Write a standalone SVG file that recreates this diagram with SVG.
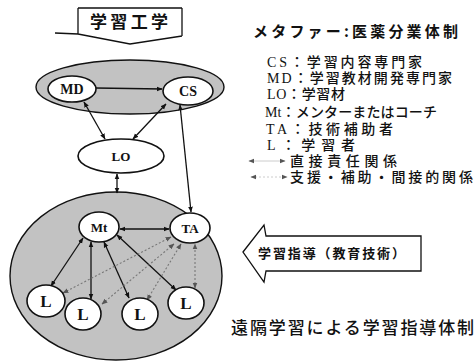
<svg xmlns="http://www.w3.org/2000/svg" width="476" height="362" viewBox="0 0 476 362">
<style>
.gray{fill:#c2c2c2;stroke:#111;stroke-width:1.4}
.node{fill:#fff;stroke:#111;stroke-width:1.6}
.lbl{font-family:"Liberation Serif","Noto Sans CJK JP",serif;font-weight:bold;fill:#111;text-anchor:middle}
.sol{stroke:#111;stroke-width:1.3;fill:none;marker-start:url(#ah);marker-end:url(#ah)}
.dot{stroke:#777;stroke-width:1.1;stroke-dasharray:2 2;fill:none;marker-start:url(#ahg);marker-end:url(#ahg)}
.leg{font-family:"Liberation Serif","Noto Sans CJK JP",serif;font-size:14px;font-weight:500;fill:#111}
.gth{font-family:"Noto Sans CJK JP",sans-serif;font-weight:bold;fill:#111}
</style>
<defs>
<marker id="ah" viewBox="0 0 10 10" refX="9" refY="5" markerWidth="6" markerHeight="6" markerUnits="userSpaceOnUse" orient="auto-start-reverse"><path d="M0,1 L10,5 L0,9 z" fill="#111"/></marker>
<marker id="ahg" viewBox="0 0 10 10" refX="9" refY="5" markerWidth="6" markerHeight="6" markerUnits="userSpaceOnUse" orient="auto-start-reverse"><path d="M0,1 L10,5 L0,9 z" fill="#555"/></marker>
</defs>
<rect width="476" height="362" fill="#fff"/>

<g id="banner-top">
<path d="M78,8 L182,8 M78,8 L78,34 M182,8 L182,36 M55,33 L78,34 L130,44 L182,36" fill="none" stroke="#111" stroke-width="1.3"/>
<text class="gth" x="90" y="28" font-size="17" textLength="78" lengthAdjust="spacing">学習工学</text>
</g>

<g id="group-top"><ellipse class="gray" cx="130" cy="87" rx="94" ry="27"/></g>
<g id="group-bottom"><ellipse class="gray" cx="116" cy="276" rx="106" ry="84"/></g>

<g id="connectors">
<line x1="96" y1="88" x2="162" y2="89" stroke="#111" stroke-width="1.3" marker-end="url(#ah)"/>
<line class="sol" x1="84" y1="102" x2="105" y2="139"/>
<line class="sol" x1="166" y1="104" x2="133" y2="139"/>
<line class="sol" x1="180" y1="105" x2="191" y2="212"/>
<line class="sol" x1="117" y1="174" x2="117" y2="193"/>
<line class="sol" x1="120" y1="229" x2="169" y2="229"/>
<line class="sol" x1="83" y1="238" x2="51" y2="286"/>
<line class="sol" x1="91" y1="242" x2="91" y2="299"/>
<line class="sol" x1="104" y1="242" x2="129" y2="298"/>
<line class="sol" x1="117" y1="235" x2="176" y2="290"/>
<line class="dot" x1="63" y1="293" x2="171" y2="237"/>
<line class="dot" x1="102" y1="304" x2="174" y2="244"/>
<line class="dot" x1="147" y1="300" x2="181" y2="244"/>
<line class="dot" x1="195" y1="288" x2="195" y2="244"/>
</g>

<g id="MD"><ellipse class="node" cx="72" cy="89" rx="24" ry="13"/><text class="lbl" x="72" y="94" font-size="14">MD</text></g>
<g id="CS"><ellipse class="node" cx="188" cy="91" rx="25" ry="14"/><text class="lbl" x="188" y="96" font-size="14">CS</text></g>
<g id="LO"><ellipse class="node" cx="121" cy="156" rx="43" ry="17"/><text class="lbl" x="121" y="161" font-size="13">LO</text></g>
<g id="Mt"><ellipse class="node" cx="99" cy="227" rx="20" ry="15"/><text class="lbl" x="99" y="232" font-size="13">Mt</text></g>
<g id="TA"><ellipse class="node" cx="190" cy="228" rx="20" ry="15"/><text class="lbl" x="190" y="233" font-size="13">TA</text></g>
<g id="L1"><ellipse class="node" cx="46" cy="301" rx="19" ry="16"/><text class="lbl" x="46" y="307" font-size="17">L</text></g>
<g id="L2"><ellipse class="node" cx="83" cy="314" rx="18" ry="16"/><text class="lbl" x="83" y="320" font-size="17">L</text></g>
<g id="L3"><ellipse class="node" cx="140" cy="314" rx="18" ry="16"/><text class="lbl" x="140" y="320" font-size="17">L</text></g>
<g id="L4"><ellipse class="node" cx="186" cy="303" rx="18" ry="16"/><text class="lbl" x="186" y="309" font-size="17">L</text></g>

<g id="legend">
<text class="gth" x="253" y="37" font-size="15" textLength="205" lengthAdjust="spacing">メタファー:医薬分業体制</text>
<text class="leg" x="267" y="67" textLength="155" lengthAdjust="spacing">CS：学習内容専門家</text>
<text class="leg" x="267" y="83" textLength="185" lengthAdjust="spacing">MD：学習教材開発専門家</text>
<text class="leg" x="267" y="99" textLength="78" lengthAdjust="spacing">LO：学習材</text>
<text class="leg" x="265" y="117" textLength="172" lengthAdjust="spacing">Mt：メンターまたはコーチ</text>
<text class="leg" x="266" y="134" textLength="127" lengthAdjust="spacing">TA：技術補助者</text>
<text class="leg" x="267" y="150" textLength="88" lengthAdjust="spacing">L：学習者</text>
<line x1="249" y1="161" x2="285" y2="161" stroke="#ccc" stroke-width="1" marker-start="url(#ahg)" marker-end="url(#ahg)"/>
<text class="leg" x="290" y="166" textLength="107" lengthAdjust="spacing">直接責任関係</text>
<line x1="251" y1="177" x2="287" y2="177" stroke="#ccc" stroke-width="1" stroke-dasharray="2 2" marker-start="url(#ahg)" marker-end="url(#ahg)"/>
<text class="leg" x="290" y="182" textLength="183" lengthAdjust="spacing">支援・補助・間接的関係</text>
</g>

<g id="arrow-guidance">
<path d="M243,252 L264,225 L266,236 L421,236 L421,271 L266,271 L264,282 Z" fill="#fff" stroke="#111" stroke-width="1.3"/>
<text class="gth" x="258" y="258" font-size="13" textLength="147" lengthAdjust="spacing">学習指導（教育技術）</text>
</g>

<g id="caption">
<text x="231" y="334" font-family="Noto Sans CJK JP, sans-serif" font-size="17" font-weight="500" fill="#111" textLength="243" lengthAdjust="spacing">遠隔学習による学習指導体制</text>
</g>
</svg>
